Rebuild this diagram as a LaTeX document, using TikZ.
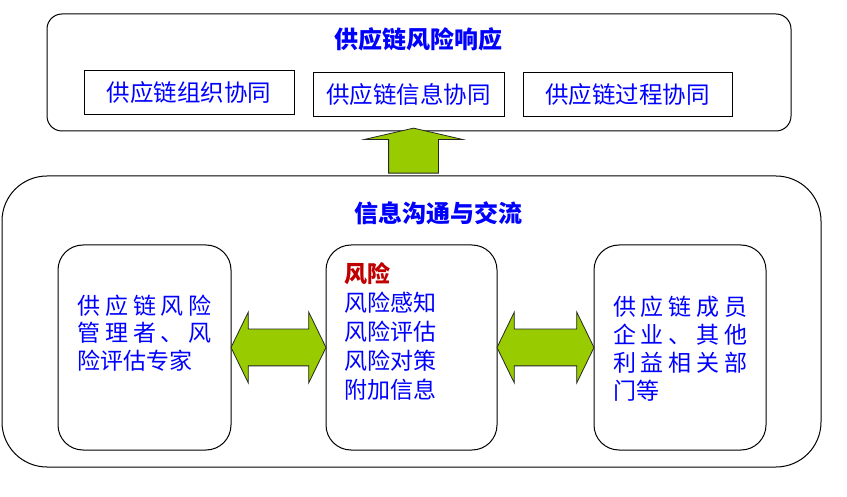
\documentclass[tikz,border=0pt]{standalone}
\usepackage{fontspec}
\usepackage{tikz}
\usepackage{xcolor}
\usetikzlibrary{shapes}
\usetikzlibrary{shapes.arrows}
\usetikzlibrary{calc}
\usetikzlibrary{positioning}

\newfontfamily\cjk{Noto Sans CJK SC}
\definecolor{arrowgreen}{HTML}{99CC00}
\definecolor{textblue}{HTML}{0000FF}
\definecolor{riskred}{HTML}{C00000}

\newcommand{\spreadline}[1]{\makebox[134pt][l]{#1}}

\begin{document}
\begin{tikzpicture}[x=1pt, y=-1pt,
    outer/.style={draw, line width=1pt, rounded corners=#1, inner sep=0pt},
    subbox/.style={draw, line width=1pt, inner sep=0pt, minimum height=44pt,
      text=textblue, font=\cjk\fontsize{23.5pt}{28pt}\selectfont},
    title/.style={text=textblue, inner sep=0pt, font=\cjk\bfseries\fontsize{24pt}{28pt}\selectfont},
    body/.style={text=textblue, align=left, inner sep=0pt, anchor=north west},
    blockarrow/.style={fill=arrowgreen, draw=black!85, line width=0.8pt, inner xsep=0pt}]

  \useasboundingbox (0,0) rectangle (847,497);

  % response layer
  \node[outer=15pt, minimum width=744pt, minimum height=117pt] (resp) at (419,72.5) {};
  \node[title] (respT) at (418,39) {供应链风险响应};
  \node[subbox, minimum width=210pt] (org) at (189,93) {供应链组织协同};
  \node[subbox, minimum width=191pt] (info) at (408.5,95) {供应链信息协同};
  \node[subbox, minimum width=209pt] (proc) at (627.5,95) {供应链过程协同};

  % communication layer
  \node[outer=45pt, minimum width=819pt, minimum height=291pt] (comm) at (411.5,321.5) {};
  \node[title] (commT) at (438,213) {信息沟通与交流};
  \node[outer=25pt, minimum width=173pt, minimum height=205pt] (mgr) at (144.5,347.5) {};
  \node[outer=25pt, minimum width=171pt, minimum height=205pt] (core) at (411.5,347.5) {};
  \node[outer=25pt, minimum width=172pt, minimum height=205pt] (memb) at (680,347.5) {};

  \node[body, font=\cjk\fontsize{23pt}{27.5pt}\selectfont] (mgrT) at (77.5,294.5)
    {\spreadline{供\hfill 应\hfill 链\hfill 风\hfill 险}\\
     \spreadline{管\hfill 理\hfill 者\hfill 、\hfill 风}\\
     险评估专家};
  \node[body, font=\cjk\fontsize{23pt}{29pt}\selectfont] (coreT) at (344,262.5)
    {{\color{riskred}\bfseries 风险}\\风险感知\\风险评估\\风险对策\\附加信息};
  \node[body, font=\cjk\fontsize{23pt}{28pt}\selectfont] (membT) at (613,295.5)
    {\spreadline{供\hfill 应\hfill 链\hfill 成\hfill 员}\\
     \spreadline{企\hfill 业\hfill 、\hfill 其\hfill 他}\\
     \spreadline{利\hfill 益\hfill 相\hfill 关\hfill 部}\\
     门等};

  % block arrows
  \node[blockarrow, single arrow, rotate=90, inner ysep=24.5pt, minimum height=45pt,
    single arrow head extend=24pt, single arrow tip angle=154] (up) at (413.5,153.5) {};
  \node[blockarrow, double arrow, inner ysep=18pt, minimum height=95pt,
    double arrow head extend=17pt, double arrow tip angle=128]
    (left) at ($(mgr.east)!.5!(core.west)$) {};
  \node[blockarrow, double arrow, inner ysep=18pt, minimum height=97pt,
    double arrow head extend=17pt, double arrow tip angle=128]
    (right) at ($(core.east)!.5!(memb.west)$) {};

\end{tikzpicture}
\end{document}
